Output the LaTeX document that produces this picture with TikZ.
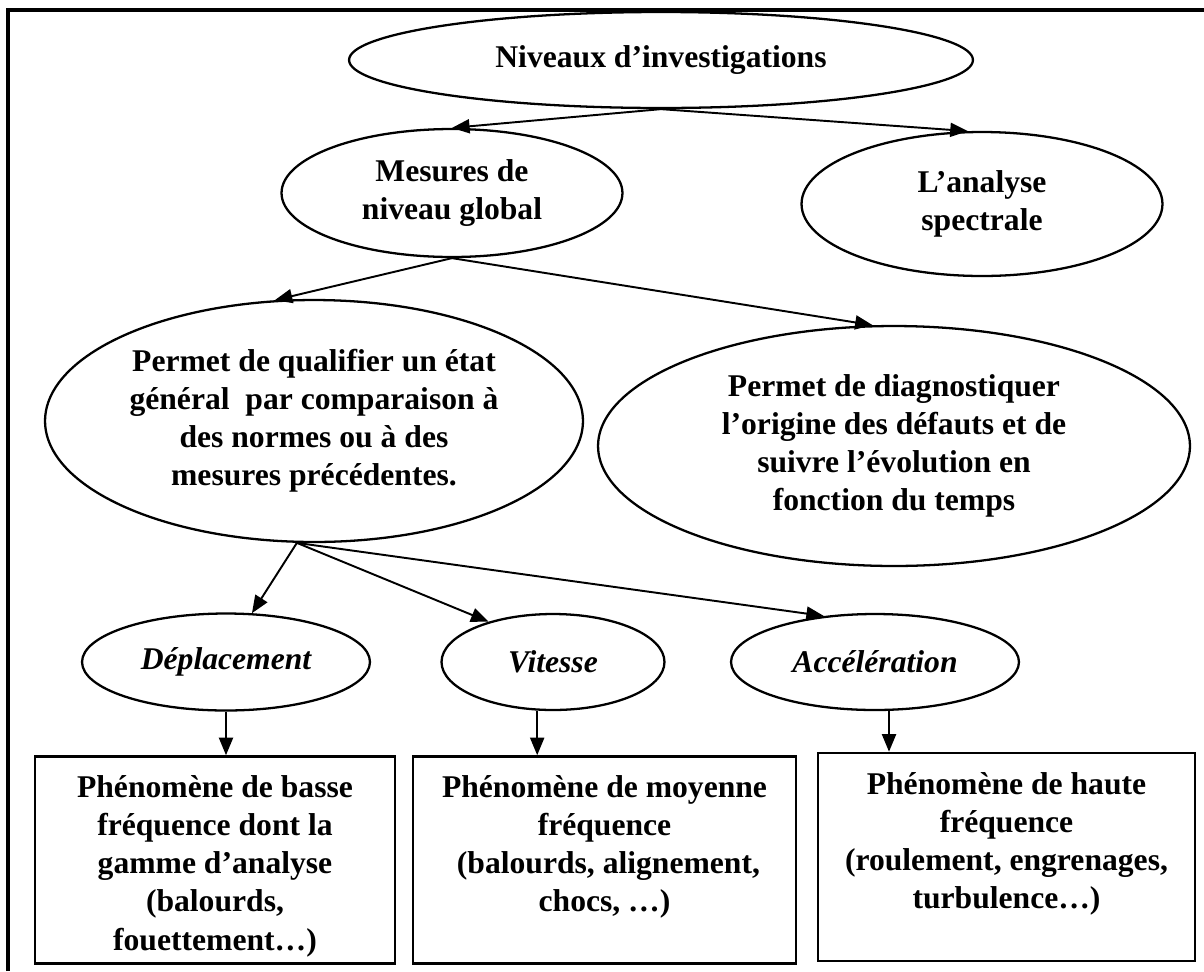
\documentclass[tikz,border=0pt]{standalone}
\usepackage{fontspec}
\setmainfont{Liberation Serif}
\usetikzlibrary{arrows.meta,shapes.geometric,positioning}

\tikzset{
  bubble/.style={draw,ellipse,line width=1.3pt,inner sep=0pt,align=center,
    font=\fontsize{18}{20.7}\selectfont\bfseries},
  tag/.style={bubble,font=\fontsize{18}{20.7}\selectfont\bfseries\itshape},
  panel/.style={draw,rectangle,line width=1.5pt,inner sep=0pt},
  paneltext/.style={align=center,inner sep=0pt,font=\fontsize{18}{20.7}\selectfont\bfseries},
  link/.style={->,line width=1.1pt}
}

\begin{document}
\begin{tikzpicture}[x=0.02cm,y=-0.02cm,>={Triangle[length=10pt,width=8pt]}]
\useasboundingbox (0,0) rectangle (1204,971);
\draw[line width=2pt] (8,971) -- (8,10) -- (1204,10);
\node[bubble,minimum width=12.48cm,minimum height=1.92cm] (niv) at (661,60) {Niveaux d’investigations};
\node[bubble,minimum width=6.82cm,minimum height=2.56cm] (mes) at (452,193) {Mesures de\\[1pt]niveau global};
\node[bubble,minimum width=7.22cm,minimum height=2.88cm] (spec) at (982,204) {L’analyse\\[1pt]spectrale};
\node[bubble,minimum width=10.76cm,minimum height=4.84cm] (qual) at (314,421) {Permet de qualifier un état\\[1pt]général \ par comparaison à\\[1pt]des normes ou à des\\[1pt]mesures précédentes.};
\node[bubble,minimum width=11.84cm,minimum height=4.8cm] (diag) at (894,446) {Permet de diagnostiquer\\[1pt]l’origine des défauts et de\\[1pt]suivre l’évolution en\\[1pt]fonction du temps};
\node[tag,minimum width=5.76cm,minimum height=1.94cm] (dep) at (226,662) {Déplacement};
\node[tag,minimum width=4.46cm,minimum height=1.92cm] (vit) at (553,662) {Vitesse};
\node[tag,minimum width=5.76cm,minimum height=1.92cm] (acc) at (875,662) {Accélération};
\node[panel,minimum width=7.2cm,minimum height=4.14cm] (b1) at (215,860) {};
\node[panel,minimum width=7.66cm,minimum height=4.14cm] (b2) at (604.5,860) {};
\node[panel,minimum width=7.54cm,minimum height=4.16cm] (b3) at (1006.5,857) {};
\node[paneltext,below=0.4cm of b1.north] (t1) {Phénomène de basse\\[1pt]fréquence dont la\\[1pt]gamme d’analyse\\[1pt](balourds,\\[1pt]fouettement…)};
\node[paneltext,below=0.4cm of b2.north] (t2) {Phénomène de moyenne\\[1pt]fréquence\\[1pt] \ (balourds, alignement,\\[1pt]chocs, …)};
\node[paneltext,below=0.4cm of b3.north] (t3) {Phénomène de haute\\[1pt]fréquence\\[1pt](roulement, engrenages,\\[1pt]turbulence…)};
\draw[link] (niv.south) -- (mes.north);
\draw[link] (niv.south) -- (spec.101);
\draw[link] (mes.south) -- (qual.108);
\draw[link] (mes.south) -- (diag.100);
\draw[link] (qual.262) -- (dep.62);
\draw[link] (qual.262) -- (vit.148);
\draw[link] (qual.262) -- (acc.138);
\draw[link] (dep.south) -- (dep.south |- b1.north);
\draw[link] (vit.252) -- (vit.252 |- b2.north);
\draw[link] (acc.286) -- (acc.286 |- b3.north);
\end{tikzpicture}
\end{document}
